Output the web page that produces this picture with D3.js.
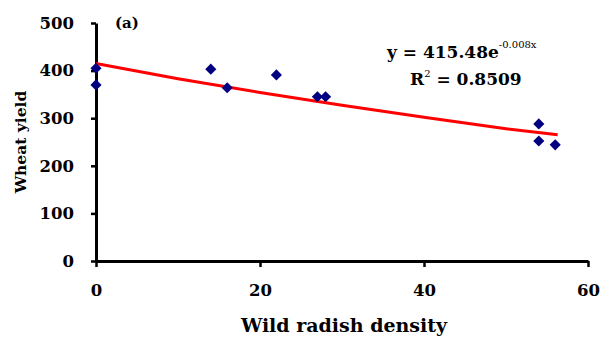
<!DOCTYPE html>
<html>
<head>
<meta charset="utf-8">
<script src="https://cdn.jsdelivr.net/npm/d3@7"></script>
<style>
  body { margin: 0; background: #fff; }
  text { font-family: "DejaVu Serif", "Liberation Serif", serif; font-weight: bold; }
</style>
</head>
<body>
<div id="chart"></div>
<script>
var svgWidth = 603;
var svgHeight = 339;

// observed points
var density = [0, 0, 14, 16, 22, 27, 28, 54, 54, 56];
var yieldVals = [405, 370, 403, 364, 391, 345, 345, 288, 252, 244];

// exponential trendline
var trendX = [0, 10, 20, 30, 40, 50, 56.3];
var trendY = [415, 383, 354, 327, 302, 278, 265];

var xTicks = [0, 20, 40, 60];
var yTicks = [0, 100, 200, 300, 400, 500];

var margin = { top: 23, right: 15, bottom: 78, left: 96 };
var width = 588 - margin.left;
var height = 261 - margin.top;

var svg = d3.select("#chart")
    .append("svg")
    .attr("width", svgWidth)
    .attr("height", svgHeight);

var chartGroup = svg.append("g")
    .attr("transform", `translate(${margin.left}, ${margin.top})`);

var xScale = d3.scaleLinear().domain([0, 60]).range([0, width]);
var yScale = d3.scaleLinear().domain([0, 500]).range([height, 0]);

var bottomAxis = d3.axisBottom(xScale).tickValues(xTicks).tickSize(6).tickSizeOuter(0).tickPadding(17);
var leftAxis = d3.axisLeft(yScale).tickValues(yTicks).tickSize(5).tickSizeOuter(0).tickPadding(17);

var xg = chartGroup.append("g")
    .attr("transform", `translate(0, ${height})`)
    .call(bottomAxis);
var yg = chartGroup.append("g")
    .call(leftAxis);

[xg, yg].forEach(function (g) {
    g.select(".domain").attr("stroke", "#000").attr("stroke-width", 3);
    g.selectAll(".tick line").attr("stroke", "#000").attr("stroke-width", 2.5);
    g.selectAll(".tick text")
        .attr("font-family", "DejaVu Serif")
        .attr("font-weight", "bold")
        .attr("font-size", "16.5px")
        .attr("fill", "#000");
});

// trendline
var line = d3.line()
    .x(function (d, i) { return xScale(trendX[i]); })
    .y(function (d, i) { return yScale(trendY[i]); });

chartGroup.append("path")
    .datum(trendX)
    .attr("d", line)
    .attr("fill", "none")
    .attr("stroke", "#ff0000")
    .attr("stroke-width", 3);

// diamonds
chartGroup.selectAll(".pt")
    .data(density)
    .enter()
    .append("path")
    .attr("class", "pt")
    .attr("d", d3.symbol().type(d3.symbolSquare).size(62))
    .attr("transform", function (d, i) {
        return `translate(${xScale(d)}, ${yScale(yieldVals[i])}) rotate(45)`;
    })
    .attr("fill", "#000080");

// labels
chartGroup.append("text")
    .attr("x", 19)
    .attr("y", 5)
    .attr("font-size", "15px")
    .text("(a)");

var eq = chartGroup.append("text")
    .attr("x", 291)
    .attr("y", 35)
    .attr("font-size", "17px");
eq.append("tspan").text("y = 415.48e");
eq.append("tspan").attr("dy", -10).attr("font-size", "10px").attr("font-weight", "normal").text("-0.008x");

var r2 = chartGroup.append("text")
    .attr("x", 314)
    .attr("y", 62)
    .attr("font-size", "17px");
r2.append("tspan").text("R");
r2.append("tspan").attr("dy", -8).attr("font-size", "10px").attr("font-weight", "normal").text("2");
r2.append("tspan").attr("dy", 8).text(" = 0.8509");

svg.append("text")
    .attr("transform", "rotate(-90)")
    .attr("x", -142)
    .attr("y", 26)
    .attr("text-anchor", "middle")
    .attr("font-size", "15.5px")
    .text("Wheat yield");

svg.append("text")
    .attr("x", 344)
    .attr("y", 332)
    .attr("text-anchor", "middle")
    .attr("font-size", "19px")
    .text("Wild radish density");
</script>
</body>
</html>
